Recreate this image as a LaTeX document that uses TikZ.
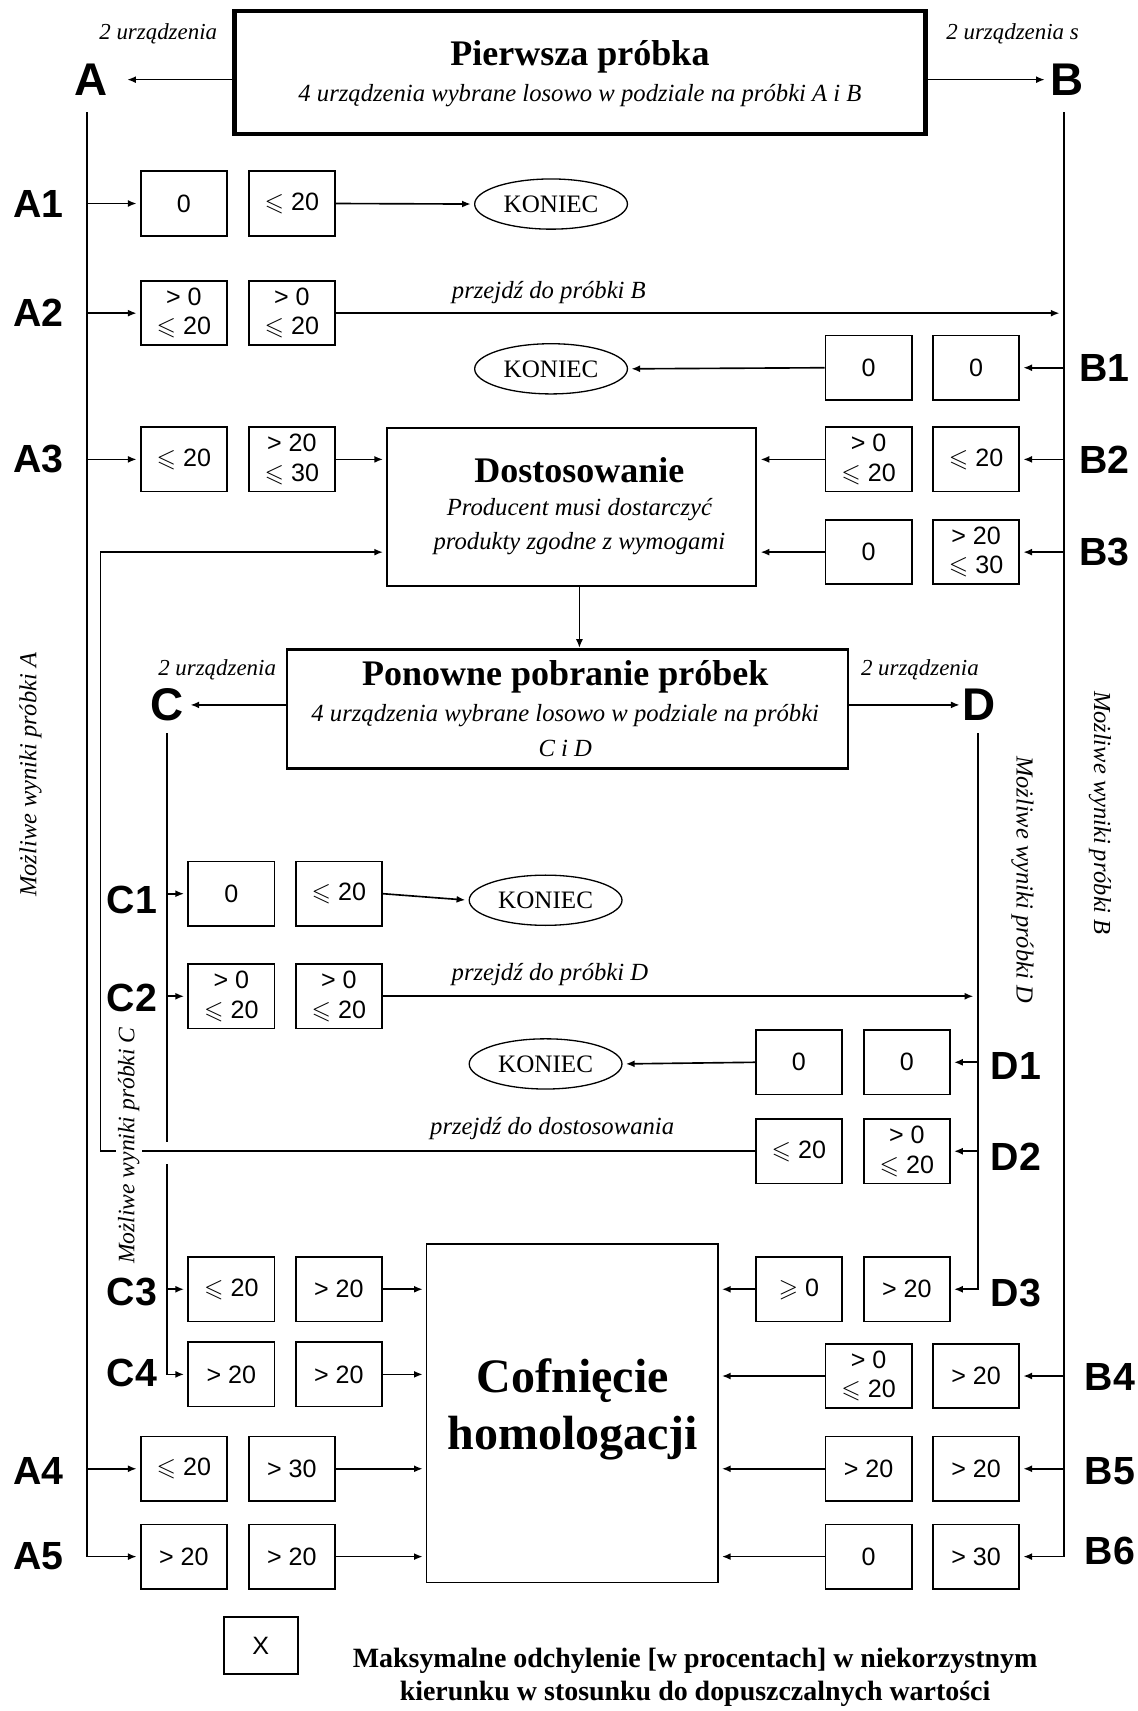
\documentclass[tikz,border=0pt]{standalone}
\usepackage{amssymb}
\usepackage{fontspec}
\setmainfont{Liberation Serif}
\setsansfont{Liberation Sans}
\usetikzlibrary{arrows.meta,shapes.geometric}
\newcommand{\mle}{$\leqslant$}
\newcommand{\mge}{$\geqslant$}
\begin{document}
\begin{tikzpicture}[x=0.5pt,y=-0.5pt,
 arr/.style={-{Latex[length=4pt,width=3.2pt]}, line width=0.75pt},
 ln/.style={line width=0.75pt},
 vbox/.style={draw, line width=0.8pt, minimum width=39.5pt, minimum height=29.5pt, inner sep=0pt, align=center, font=\fontsize{11.5}{13.5}\selectfont\sffamily},
 lab/.style={font=\fontsize{18}{18}\selectfont\sffamily\bfseries, inner sep=0pt},
 biglab/.style={font=\fontsize{21}{21}\selectfont\sffamily\bfseries, inner sep=0pt},
 it/.style={font=\fontsize{11.3}{13}\selectfont\itshape, inner sep=0pt},
 small/.style={font=\fontsize{10.5}{12}\selectfont\itshape, inner sep=0pt},
 koniec/.style={draw, ellipse, line width=0.6pt, minimum width=70pt, minimum height=23pt, inner sep=0pt, font=\fontsize{11.5}{12}\selectfont},
 title/.style={font=\fontsize{16.5}{18}\selectfont\bfseries, inner sep=0pt},
 rot/.style={font=\fontsize{11.2}{12}\selectfont\itshape, inner sep=1pt, fill=white},
 legend/.style={font=\fontsize{12.8}{14}\selectfont\bfseries, inner sep=0pt}
]
\path[use as bounding box] (0,0) rectangle (1042,1568);

% ---------- top block
\node[draw, line width=2pt, minimum width=316.5pt, minimum height=56.5pt] (top) at (531.5,66.5) {};
\node[title] (topt) at (531.5,52) {Pierwsza próbka};
\node[it] (tops) at (531.5,88) {4 urządzenia wybrane losowo w podziale na próbki A i B};
\node[biglab] (A) at (83,73) {A};
\node[biglab] (B) at (978,73) {B};
\node[small] (ua) at (145,31) {2 urządzenia};
\node[small] (ub) at (928,31) {2 urządzenia s};
\draw[arr, shorten >=9pt] (top.west |- A) -- (A.east);
\draw[arr, shorten >=2.5pt] (top.east |- B) -- (B.west);

\coordinate (Atop) at (80,103);
\coordinate (Btop) at (975,103);
\coordinate (R1) at (92,1055);
\coordinate (R2) at (92,506);
\coordinate (dn) at (531,0);
\coordinate (Ctop) at (153,672);
\coordinate (Cg1) at (153,1047);
\coordinate (Cg2) at (153,1067);
\coordinate (Dtop) at (896,672);

% ---------- big boxes
\node[draw, line width=1pt, minimum width=169pt, minimum height=72.5pt] (dost) at (524,464.5) {};
\node[title] (dostt) at (531,431) {Dostosowanie};
\node[it] (dosts1) at (531,467) {Producent musi dostarczyć};
\node[it] (dosts2) at (531,498) {produkty zgodne z wymogami};

\node[draw, line width=1.2pt, minimum width=257pt, minimum height=54.5pt] (pon) at (520,649.5) {};
\node[title] (pont) at (518,620) {Ponowne pobranie próbek};
\node[it] (pons1) at (518,656) {4 urządzenia wybrane losowo w podziale na próbki};
\node[it] (pons2) at (518,686) {C i D};

\node[draw, line width=0.6pt, minimum width=133.5pt, minimum height=155pt] (cof) at (524.5,1295) {};
\node[font=\fontsize{22}{24}\selectfont\bfseries, inner sep=0pt] (coft1) at (525,1265) {Cofnięcie};
\node[font=\fontsize{22}{24}\selectfont\bfseries, inner sep=0pt] (coft2) at (525,1318) {homologacji};

\draw[arr] (dost.south -| dn) -- (pon.north -| dn);

% ---------- value boxes
\node[vbox] (a1l) at (168.5,186.5) {0};
\node[vbox] (a1r) at (267.5,186.5) {\mle\ 20};
\node[vbox] (a2l) at (168.5,287) {> 0\\\mle\ 20};
\node[vbox] (a2r) at (267.5,287) {> 0\\\mle\ 20};
\node[vbox] (a3l) at (168.5,421) {\mle\ 20};
\node[vbox] (a3r) at (267.5,421) {> 20\\\mle\ 30};
\node[vbox] (a4l) at (168.5,1346) {\mle\ 20};
\node[vbox] (a4r) at (267.5,1346) {> 30};
\node[vbox] (a5l) at (168.5,1426.5) {> 20};
\node[vbox] (a5r) at (267.5,1426.5) {> 20};

\node[vbox] (b1l) at (796,337) {0};
\node[vbox] (b1r) at (894.5,337) {0};
\node[vbox] (b2l) at (796,421) {> 0\\\mle\ 20};
\node[vbox] (b2r) at (894.5,421) {\mle\ 20};
\node[vbox] (b3l) at (796,506) {0};
\node[vbox] (b3r) at (894.5,506) {> 20\\\mle\ 30};
\node[vbox] (b4l) at (796,1261) {> 0\\\mle\ 20};
\node[vbox] (b4r) at (894.5,1261) {> 20};
\node[vbox] (b5l) at (796,1346) {> 20};
\node[vbox] (b5r) at (894.5,1346) {> 20};
\node[vbox] (b6l) at (796,1426.5) {0};
\node[vbox] (b6r) at (894.5,1426.5) {> 30};

\node[vbox] (c1l) at (212,819) {0};
\node[vbox] (c1r) at (310.5,819) {\mle\ 20};
\node[vbox] (c2l) at (212,913) {> 0\\\mle\ 20};
\node[vbox] (c2r) at (310.5,913) {> 0\\\mle\ 20};
\node[vbox] (c3l) at (212,1181.5) {\mle\ 20};
\node[vbox] (c3r) at (310.5,1181.5) {> 20};
\node[vbox] (c4l) at (212,1259.5) {> 20};
\node[vbox] (c4r) at (310.5,1259.5) {> 20};

\node[vbox] (d1l) at (732,973.5) {0};
\node[vbox] (d1r) at (831,973.5) {0};
\node[vbox] (d2l) at (732,1055) {\mle\ 20};
\node[vbox] (d2r) at (831,1055) {> 0\\\mle\ 20};
\node[vbox] (d3l) at (732,1181.5) {\mge\ 0};
\node[vbox] (d3r) at (831,1181.5) {> 20};

\node[koniec] (k1) at (505,187) {KONIEC};
\node[koniec] (k2) at (505,338) {KONIEC};
\node[koniec] (k3) at (500,825) {KONIEC};
\node[koniec] (k4) at (500,975) {KONIEC};

% ---------- A connectors
\draw[arr, shorten >=1.5pt] (Atop) -- (Atop |- a5l.west) -- (a5l.west);
\foreach \n in {a1l,a2l,a3l,a4l} \draw[arr, shorten >=1.5pt] (Atop |- \n.west) -- (\n.west);
\draw[arr, shorten >=1.5pt] (a1r.east) -- (k1.west);
\draw[arr, shorten >=2pt] (a2r.east) -- (Btop |- a2r.east);
\node[it] (pb) at (503,268) {przejdź do próbki B};
\draw[arr, shorten >=1.5pt] (a3r.east) -- (a3r.east -| dost.west);
\draw[arr, shorten >=1.5pt] (a4r.east) -- (a4r.east -| cof.west);
\draw[arr, shorten >=1.5pt] (a5r.east) -- (a5r.east -| cof.west);

% ---------- B connectors
\draw[arr, shorten >=1.5pt] (Btop) -- (Btop |- b6r.east) -- (b6r.east);
\foreach \n in {b1r,b2r,b3r,b4r,b5r} \draw[arr, shorten >=1.5pt] (Btop |- \n.east) -- (\n.east);
\draw[arr, shorten >=1.5pt] (b1l.west) -- (k2.east);
\draw[arr, shorten >=1.5pt] (b2l.west) -- (b2l.west -| dost.east);
\draw[arr, shorten >=1.5pt] (b3l.west) -- (b3l.west -| dost.east);
\draw[arr, shorten >=1.5pt] (b4l.west) -- (b4l.west -| cof.east);
\draw[arr, shorten >=1.5pt] (b5l.west) -- (b5l.west -| cof.east);
\draw[arr, shorten >=1.5pt] (b6l.west) -- (b6l.west -| cof.east);

% ---------- C / D
\node[biglab] (C) at (153,646) {C};
\node[biglab] (D) at (897,646) {D};
\node[small] (uc) at (199,614) {2 urządzenia};
\node[small] (ud) at (843,614) {2 urządzenia};
\draw[arr, shorten >=3pt] (pon.west |- C) -- (C.east);
\draw[arr, shorten >=1pt] (pon.east |- D) -- (D.west);

% return path to Dostosowanie
\draw[arr, shorten >=1.5pt] (d2l.west) -- (R1) -- (R2) -- (R2 -| dost.west);
\node[it] (pd2) at (506,1034) {przejdź do dostosowania};

\draw[ln] (Ctop) -- (Cg1);
\draw[arr, shorten >=1.5pt] (Cg2) -- (Cg2 |- c4l.west) -- (c4l.west);
\foreach \n in {c1l,c2l,c3l} \draw[arr, shorten >=1.5pt] (Ctop |- \n.west) -- (\n.west);
\draw[arr, shorten >=1.5pt] (c1r.east) -- (k3.west);
\draw[arr, shorten >=2pt] (c2r.east) -- (Dtop |- c2r.east);
\node[it] (pd) at (504,893) {przejdź do próbki D};
\draw[arr, shorten >=1.5pt] (c3r.east) -- (c3r.east -| cof.west);
\draw[arr, shorten >=1.5pt] (c4r.east) -- (c4r.east -| cof.west);

\draw[arr, shorten >=1.5pt] (Dtop) -- (Dtop |- d3r.east) -- (d3r.east);
\foreach \n in {d1r,d2r} \draw[arr, shorten >=1.5pt] (Dtop |- \n.east) -- (\n.east);
\draw[arr, shorten >=1.5pt] (d1l.west) -- (k4.east);
\draw[arr, shorten >=1.5pt] (d3l.west) -- (d3l.west -| cof.east);

% ---------- rotated side texts
\node[rot, rotate=90] (ra) at (28,710) {Możliwe wyniki próbki A};
\node[rot, rotate=-90] (rb) at (1008,745) {Możliwe wyniki próbki B};
\node[rot, rotate=90, font=\fontsize{10.8}{12}\selectfont\itshape] (rc) at (118,1050) {Możliwe wyniki próbki C};
\node[rot, rotate=-90] (rd) at (937,806) {Możliwe wyniki próbki D};

% ---------- row labels
\node[lab] (la1) at (35,187) {A1};
\node[lab] (la2) at (35,287) {A2};
\node[lab] (la3) at (35,421) {A3};
\node[lab] (la4) at (35,1348) {A4};
\node[lab] (la5) at (35,1426) {A5};
\node[lab] (lb1) at (1012,337) {B1};
\node[lab] (lb2) at (1012,421) {B2};
\node[lab] (lb3) at (1012,506) {B3};
\node[lab] (lb4) at (1017,1262) {B4};
\node[lab] (lb5) at (1017,1348) {B5};
\node[lab] (lb6) at (1017,1421) {B6};
\node[lab] (lc1) at (121,825) {C1};
\node[lab] (lc2) at (121,915) {C2};
\node[lab] (lc3) at (121,1184) {C3};
\node[lab] (lc4) at (121,1258) {C4};
\node[lab] (ld1) at (931,977) {D1};
\node[lab] (ld2) at (931,1060) {D2};
\node[lab] (ld3) at (931,1185) {D3};

% ---------- legend
\node[draw, line width=0.8pt, minimum width=34pt, minimum height=26pt, inner sep=0pt, font=\fontsize{11.5}{12}\selectfont\sffamily] (x) at (239,1508) {X};
\node[legend] (lg1) at (637,1522) {Maksymalne odchylenie [w procentach] w niekorzystnym};
\node[legend] (lg2) at (637,1552) {kierunku w stosunku do dopuszczalnych wartości};
\end{tikzpicture}
\end{document}
